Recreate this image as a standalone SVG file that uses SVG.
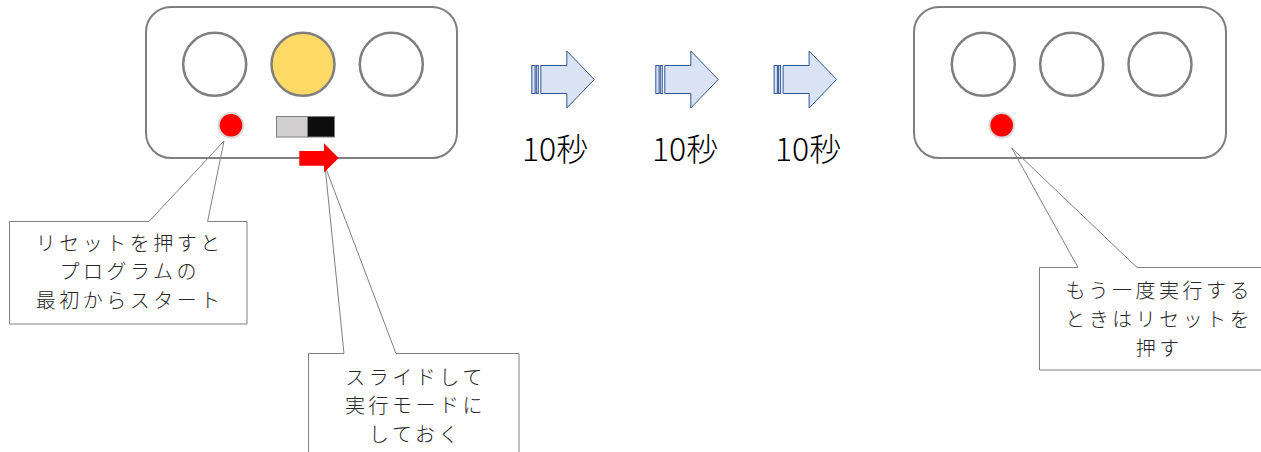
<svg xmlns="http://www.w3.org/2000/svg" width="1261" height="452" viewBox="0 0 1261 452">
<style>
.board{fill:none;stroke:#7f7f7f;stroke-width:2}
.lamp{fill:#fff;stroke:#7f7f7f;stroke-width:2.5}
.on{fill:#ffd966}
.reset{fill:#ff0000;stroke:#d9d9d9;stroke-width:2}
.callout{fill:#fff;stroke:#7f7f7f;stroke-width:1}
.step{fill:#dae3f3;stroke:#2f5597;stroke-width:1}
.jp{font-family:"Noto Sans CJK JP","Liberation Sans",sans-serif;font-size:20px;font-weight:300;letter-spacing:3.5px;fill:#262626;text-anchor:middle}
.sec{font-family:"Noto Sans CJK JP","Liberation Sans",sans-serif;font-size:32px;font-weight:300;fill:#000}
</style>
<defs>
<g id="arrowShape">
<rect class="step" x="0.5" y="14.5" width="3.3" height="28"/>
<rect class="step" x="5" y="14.5" width="2" height="28"/>
<path class="step" d="M9.5,14.5 H35.5 V0 L63,28.5 L35.5,57 V42.5 H9.5 Z"/>
</g>
</defs>
<g id="callouts">
<g id="callout-reset">
<path class="callout" d="M9.5,221.5 H149 L224,141 L207.6,221.5 H247 V324 H9.5 Z"/>
<text class="jp" x="129.7" y="250.6">リセットを押すと</text>
<text class="jp" x="129.7" y="279.3">プログラムの</text>
<text class="jp" x="129.7" y="308">最初からスタート</text>
</g>
<g id="callout-slide">
<path class="callout" d="M308.5,353.5 H344 L325,166 L396,353.5 H519 V460 H308.5 Z"/>
<text class="jp" x="415.5" y="384.6">スライドして</text>
<text class="jp" x="415.5" y="413.3">実行モードに</text>
<text class="jp" x="415.5" y="441.6">しておく</text>
</g>
<g id="callout-again">
<path class="callout" d="M1039.5,267.5 H1078 L1011.7,148 L1137,267.5 H1270 V370 H1039.5 Z"/>
<text class="jp" x="1159.2" y="297.6">もう一度実行する</text>
<text class="jp" x="1159.2" y="326.6">ときはリセットを</text>
<text class="jp" x="1159.2" y="355.6">押す</text>
</g>
</g>
<g id="board-start">
<rect class="board" x="146" y="7" width="311" height="151" rx="25"/>
<circle class="lamp" cx="214.7" cy="64.3" r="31.5"/>
<circle class="lamp on" cx="303" cy="64.3" r="31.5"/>
<circle class="lamp" cx="391.3" cy="64.3" r="31.5"/>
<circle class="reset" cx="231" cy="125.3" r="12.3"/>
<rect x="276.5" y="116.5" width="31" height="20.5" fill="#d0cece" stroke="#7f7f7f" stroke-width="1"/>
<rect x="307.5" y="116.5" width="27" height="20.5" fill="#0d0d0d" stroke="#7f7f7f" stroke-width="1"/>
<path d="M299.3,151 H324 V143.3 L338.7,158 L324,172.5 V165.7 H299.3 Z" fill="#ff0000"/>
</g>
<g id="board-end">
<rect class="board" x="914" y="7" width="312" height="151" rx="25"/>
<circle class="lamp" cx="983.3" cy="64.3" r="31.5"/>
<circle class="lamp" cx="1071.7" cy="64.3" r="31.5"/>
<circle class="lamp" cx="1160" cy="64.3" r="31.5"/>
<circle class="reset" cx="1001.7" cy="125.3" r="12.3"/>
</g>
<g id="step1">
<use href="#arrowShape" x="531.3" y="51"/>
<text class="sec" x="522" y="161">10秒</text>
</g>
<g id="step2">
<use href="#arrowShape" x="655.3" y="51"/>
<text class="sec" x="652" y="161">10秒</text>
</g>
<g id="step3">
<use href="#arrowShape" x="773.6" y="51"/>
<text class="sec" x="775" y="161">10秒</text>
</g>
</svg>
